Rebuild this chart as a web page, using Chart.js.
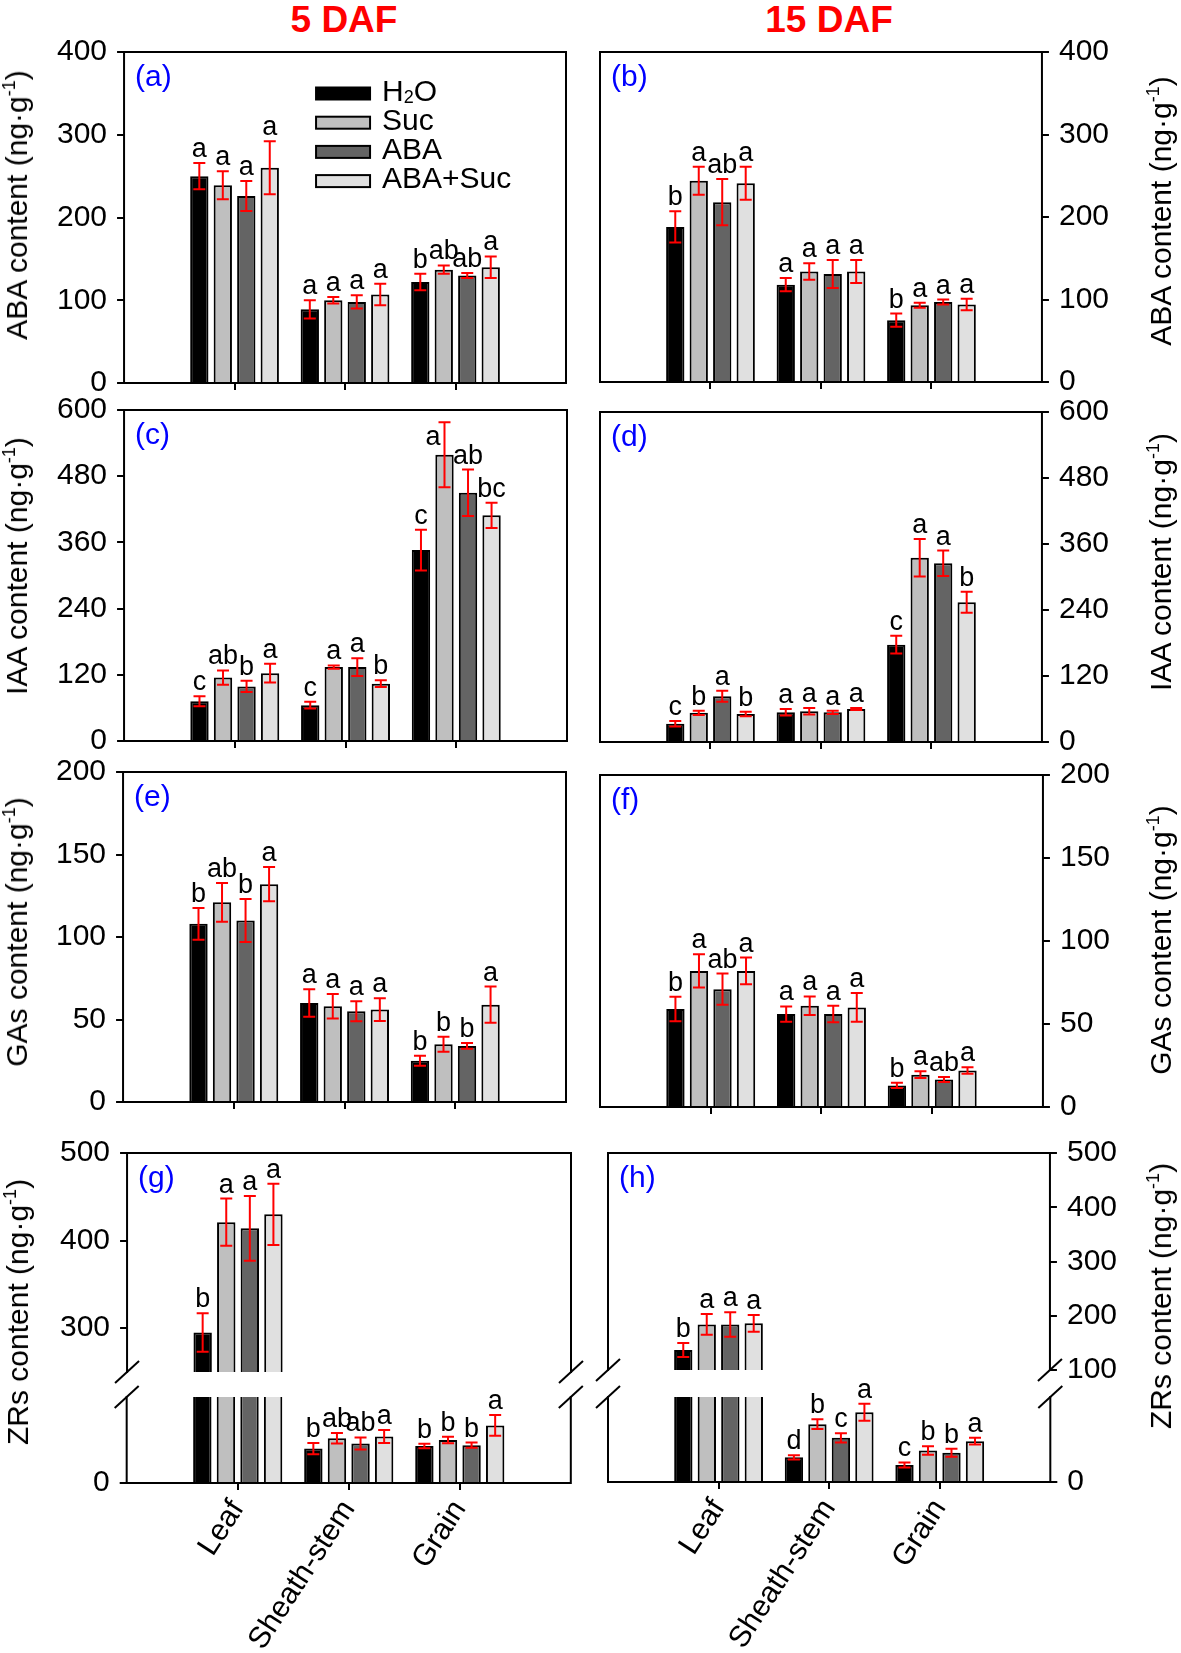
<!DOCTYPE html>
<html>
<head>
<meta charset="utf-8">
<title>ABA, IAA, GAs and ZRs content</title>
<script src="https://cdn.jsdelivr.net/npm/chart.js@4.4.1/dist/chart.umd.min.js"></script>
<style>
  body { margin: 0; background: #fff; }
  #fig { position: relative; width: 1181px; height: 1653px; overflow: hidden; background: #fff; }
  #fig canvas { position: absolute; }
  .txt {
    position: absolute; white-space: nowrap; line-height: 1; color: #000;
    font-family: 'Liberation Sans', Arial, sans-serif;
    transform: translate(-50%, -50%);
  }
  .daf { font-size: 37px; font-weight: bold; color: #ff0000; }
  .ytitle { font-size: 30px; transform: translate(-50%, -50%) rotate(-90deg); }
  .ytitle sup { font-size: 18px; vertical-align: baseline; position: relative; top: -12px; }
</style>
</head>
<body>
<div id="fig">
  <div class="txt daf" style="left:344px;top:19px">5 DAF</div>
  <div class="txt daf" style="left:829px;top:19px">15 DAF</div>
</div>

<script>
const FONT = "'Liberation Sans', Arial, sans-serif";
Chart.defaults.font.family = FONT;
Chart.defaults.color = '#000';

const organs     = ['Leaf', 'Sheath-stem', 'Grain'];
const treatments = ['H₂O', 'Suc', 'ABA', 'ABA+Suc'];
const fills      = ['#000000', '#bfbfbf', '#646464', '#e0e0e0'];

// rows follow treatments, columns follow organs

// (a) ABA, 5 DAF
const abaEarly    = [[250, 89, 122], [239, 100, 137], [226, 98, 130], [260, 107, 140]];
const abaEarlyErr = [[16, 11, 10], [17, 4, 5], [18, 8, 3], [32, 13, 13]];
const abaEarlySig = [['a', 'a', 'b'], ['a', 'a', 'ab'], ['a', 'a', 'ab'], ['a', 'a', 'a']];

// (b) ABA, 15 DAF
const abaLate    = [[188, 118, 75], [244, 134, 93], [218, 131, 97], [241, 134, 94]];
const abaLateErr = [[19, 8, 8], [17, 10, 3], [28, 17, 3], [20, 14, 7]];
const abaLateSig = [['b', 'a', 'b'], ['a', 'a', 'a'], ['ab', 'a', 'a'], ['a', 'a', 'a']];

// (c) IAA, 5 DAF
const iaaEarly    = [[72, 65, 346], [115, 134, 519], [99, 134, 450], [123, 104, 409]];
const iaaEarlyErr = [[9, 6, 37], [13, 3, 59], [10, 16, 42], [17, 6, 23]];
const iaaEarlySig = [['c', 'c', 'c'], ['ab', 'a', 'a'], ['b', 'a', 'ab'], ['a', 'b', 'bc']];

// (d) IAA, 15 DAF
const iaaLate    = [[33, 54, 177], [53, 56, 335], [83, 54, 325], [51, 60, 254]];
const iaaLateErr = [[5, 6, 16], [4, 6, 34], [10, 3, 23], [4, 2, 19]];
const iaaLateSig = [['c', 'a', 'c'], ['b', 'a', 'a'], ['a', 'a', 'a'], ['b', 'a', 'b']];

// (e) GAs, 5 DAF
const gaEarly    = [[108, 60, 25], [121, 58, 35], [110, 55, 34], [132, 56, 59]];
const gaEarlyErr = [[9.6, 8.3, 3], [11.8, 7.4, 4.6], [13, 6, 1.8], [10.4, 6.9, 11]];
const gaEarlySig = [['b', 'a', 'b'], ['ab', 'a', 'b'], ['b', 'a', 'b'], ['a', 'a', 'a']];

// (f) GAs, 15 DAF
const gaLate    = [[59, 56, 13], [82, 61, 19.5], [71, 56, 16.5], [82, 60, 22]];
const gaLateErr = [[7.4, 4.6, 1.6], [10, 5.6, 2], [9.4, 5, 1.5], [8, 8.7, 2]];
const gaLateSig = [['b', 'a', 'b'], ['a', 'a', 'a'], ['ab', 'a', 'ab'], ['a', 'a', 'a']];

// (g) ZRs, 5 DAF
const zrEarly    = [[295, 40, 43], [421, 52, 50], [414, 46, 44], [430, 54, 67]];
const zrEarlyErr = [[22, 6.5, 2.7], [27, 6, 3.8], [37, 7, 3], [35, 7.5, 12]];
const zrEarlySig = [['b', 'b', 'b'], ['a', 'ab', 'b'], ['a', 'ab', 'b'], ['a', 'a', 'a']];

// (h) ZRs, 15 DAF
const zrLate    = [[137, 29, 20], [184, 68, 37], [184, 52, 34.5], [186, 82, 48]];
const zrLateErr = [[13, 2.5, 3], [19, 5.7, 5], [22.5, 5.5, 4.7], [15.5, 10, 4]];
const zrLateSig = [['b', 'd', 'c'], ['a', 'b', 'b'], ['a', 'c', 'b'], ['a', 'a', 'a']];

// tick labels
const abaTicks        = [0, 100, 200, 300, 400];
const iaaTicks        = [0, 120, 240, 360, 480, 600];
const gaTicks         = [0, 50, 100, 150, 200];
const zrEarlyTopTicks = [300, 400, 500];
const zrLateTopTicks  = [100, 200, 300, 400, 500];
const zrLowTicks      = [0];

const panels = [
  { tag: '(a)', name: 'ABA', vals: abaEarly, errs: abaEarlyErr, sig: abaEarlySig, side: 'left', legend: true,
    l: 124, r: 566, titleX: 17, titleY: 205,
    segs: [{ min: 0, max: 400, ticks: abaTicks, t: 52, b: 383 }] },
  { tag: '(b)', name: 'ABA', vals: abaLate, errs: abaLateErr, sig: abaLateSig, side: 'right',
    l: 600, r: 1042, titleX: 1161, titleY: 211,
    segs: [{ min: 0, max: 400, ticks: abaTicks, t: 52, b: 382 }] },
  { tag: '(c)', name: 'IAA', vals: iaaEarly, errs: iaaEarlyErr, sig: iaaEarlySig, side: 'left',
    l: 124, r: 567, titleX: 17, titleY: 566,
    segs: [{ min: 0, max: 600, ticks: iaaTicks, t: 410, b: 741 }] },
  { tag: '(d)', name: 'IAA', vals: iaaLate, errs: iaaLateErr, sig: iaaLateSig, side: 'right',
    l: 600, r: 1042, titleX: 1161, titleY: 562,
    segs: [{ min: 0, max: 600, ticks: iaaTicks, t: 412, b: 742 }] },
  { tag: '(e)', name: 'GAs', vals: gaEarly, errs: gaEarlyErr, sig: gaEarlySig, side: 'left',
    l: 123, r: 566, titleX: 17, titleY: 932,
    segs: [{ min: 0, max: 200, ticks: gaTicks, t: 772, b: 1102 }] },
  { tag: '(f)', name: 'GAs', vals: gaLate, errs: gaLateErr, sig: gaLateSig, side: 'right',
    l: 600, r: 1043, titleX: 1161, titleY: 940,
    segs: [{ min: 0, max: 200, ticks: gaTicks, t: 775, b: 1107 }] },
  { tag: '(g)', name: 'ZRs', vals: zrEarly, errs: zrEarlyErr, sig: zrEarlySig, side: 'left',
    l: 127, r: 571, titleX: 18, titleY: 1312,
    segs: [{ min: 250, max: 500, ticks: zrEarlyTopTicks, t: 1153, b: 1372 },
           { min: 0, max: 100, ticks: zrLowTicks, t: 1397, b: 1483 }] },
  { tag: '(h)', name: 'ZRs', vals: zrLate, errs: zrLateErr, sig: zrLateSig, side: 'right',
    l: 608, r: 1050, titleX: 1161, titleY: 1296,
    segs: [{ min: 100, max: 500, ticks: zrLateTopTicks, t: 1153, b: 1370 },
           { min: 0, max: 100, ticks: zrLowTicks, t: 1397, b: 1482 }] }
];

const fig = document.getElementById('fig');

// text with unicode subscript digits drawn small and lowered
function richText(ctx, text, x, y, size) {
  let cx = x;
  for (const ch of text) {
    const sub = '₀₁₂₃₄₅₆₇₈₉'.indexOf(ch);
    const s = sub >= 0 ? String(sub) : ch;
    ctx.font = (sub >= 0 ? Math.round(size * 0.6) : size) + 'px ' + FONT;
    ctx.fillText(s, cx, sub >= 0 ? y + size * 0.18 : y);
    cx += ctx.measureText(s).width;
  }
}

function inRange(scale, v) {
  return v != null && v >= scale.min && v <= scale.max;
}

const errorBars = {
  id: 'errorBars',
  afterDatasetsDraw(chart) {
    const { ctx, chartArea: a } = chart;
    const y = chart.scales.y;
    ctx.save();
    ctx.beginPath();
    ctx.rect(a.left, a.top - 2, a.right - a.left, a.bottom - a.top + 4);
    ctx.clip();
    ctx.strokeStyle = '#ff0000';
    ctx.lineWidth = 2;
    chart.data.datasets.forEach((ds, i) => {
      chart.getDatasetMeta(i).data.forEach((bar, j) => {
        const v = ds.data[j];
        if (!inRange(y, v)) return;
        const top = y.getPixelForValue(v + ds.errors[j]);
        const bot = y.getPixelForValue(v - ds.errors[j]);
        ctx.beginPath();
        ctx.moveTo(bar.x, top);     ctx.lineTo(bar.x, bot);
        ctx.moveTo(bar.x - 6, top); ctx.lineTo(bar.x + 6, top);
        ctx.moveTo(bar.x - 6, bot); ctx.lineTo(bar.x + 6, bot);
        ctx.stroke();
      });
    });
    ctx.restore();
  }
};

// significance letters over each error bar
function lettersPlugin(mayMoveAside) {
  return {
    id: 'letters',
    afterDraw(chart) {
      const { ctx, chartArea: a } = chart;
      const y = chart.scales.y;
      ctx.save();
      ctx.fillStyle = '#000';
      ctx.font = '27px ' + FONT;
      ctx.textBaseline = 'alphabetic';
      chart.data.datasets.forEach((ds, i) => {
        chart.getDatasetMeta(i).data.forEach((bar, j) => {
          const v = ds.data[j];
          if (!inRange(y, v) || !ds.letters[j]) return;
          const cap = y.getPixelForValue(v + ds.errors[j]);
          if (mayMoveAside && cap - 27 < a.top) {
            // no room above: put it beside the bar
            ctx.textAlign = 'right';
            ctx.fillText(ds.letters[j], bar.x - 4, cap + 23);
          } else {
            ctx.textAlign = 'center';
            ctx.fillText(ds.letters[j], bar.x, cap - 6);
          }
        });
      });
      ctx.restore();
    }
  };
}

function framePlugin(sides, cut) {
  return {
    id: 'frame',
    afterDraw(chart) {
      const { ctx, chartArea: a } = chart;
      ctx.save();
      ctx.strokeStyle = '#000';
      ctx.lineWidth = 2;
      ctx.lineCap = 'square';
      ctx.beginPath();
      if (sides.includes('t')) { ctx.moveTo(a.left, a.top);    ctx.lineTo(a.right, a.top); }
      if (sides.includes('b')) { ctx.moveTo(a.left, a.bottom); ctx.lineTo(a.right, a.bottom); }
      ctx.moveTo(a.left, a.top);  ctx.lineTo(a.left, a.bottom);
      ctx.moveTo(a.right, a.top); ctx.lineTo(a.right, a.bottom);
      ctx.stroke();
      if (cut) {
        const yc = cut === 'bottom' ? a.bottom : a.top;
        ctx.lineCap = 'butt';
        [a.left, a.right].forEach(xc => {
          ctx.beginPath();
          ctx.moveTo(xc - 12, yc + 11);
          ctx.lineTo(xc + 12, yc - 11);
          ctx.stroke();
        });
      }
      ctx.restore();
    }
  };
}

function tagPlugin(tag) {
  return {
    id: 'tag',
    afterDraw(chart) {
      const { ctx, chartArea: a } = chart;
      ctx.save();
      ctx.fillStyle = '#0000ff';
      ctx.font = '30px ' + FONT;
      ctx.textAlign = 'left';
      ctx.textBaseline = 'middle';
      ctx.fillText(tag, a.left + 11, a.top + 26);
      ctx.restore();
    }
  };
}

const legendBox = {
  id: 'legendBox',
  afterDraw(chart) {
    const { ctx, chartArea: a } = chart;
    ctx.save();
    ctx.textAlign = 'left';
    ctx.textBaseline = 'middle';
    chart.data.datasets.forEach((ds, i) => {
      const cy = a.top + 41.5 + i * 29.2;
      ctx.fillStyle = ds.backgroundColor;
      ctx.fillRect(a.left + 192, cy - 6, 54, 12);
      ctx.strokeStyle = '#000';
      ctx.lineWidth = 2;
      ctx.strokeRect(a.left + 192, cy - 6, 54, 12);
      ctx.fillStyle = '#000';
      richText(ctx, ds.label, a.left + 258, cy - 1, 30);
    });
    ctx.restore();
  }
};

// build the chart, then size and move its canvas so the plot area lands on the box
function placeChart(config, box) {
  const canvas = document.createElement('canvas');
  canvas.width = box.r - box.l + 260;
  canvas.height = box.b - box.t + 260;
  fig.appendChild(canvas);
  const chart = new Chart(canvas, config);
  let a;
  for (let n = 0; n < 3; n++) {
    a = chart.chartArea;
    const w = chart.width + (box.r - box.l) - (a.right - a.left);
    const h = chart.height + (box.b - box.t) - (a.bottom - a.top);
    chart.resize(Math.round(w), Math.round(h));
    chart.update('none');
  }
  a = chart.chartArea;
  canvas.style.left = (box.l - a.left) + 'px';
  canvas.style.top = (box.t - a.top) + 'px';
  return chart;
}

function buildSegment(p, s, k) {
  const broken = p.segs.length > 1;
  const upper = broken && k === 0;
  const lower = broken && k === 1;

  const datasets = treatments.map((t, i) => ({
    label: t,
    data: [null, ...p.vals[i], null],
    errors: [null, ...p.errs[i], null],
    letters: ['', ...p.sig[i], ''],
    backgroundColor: fills[i],
    borderColor: '#000',
    borderWidth: 2,
    barPercentage: 0.78,
    categoryPercentage: 0.85,
    clip: { left: 0, top: 0, right: 0, bottom: 0 }
  }));

  const plugins = [
    errorBars,
    lettersPlugin(!lower),
    framePlugin(upper ? 'tlr' : lower ? 'blr' : 'tblr', upper ? 'bottom' : lower ? 'top' : null)
  ];
  if (k === 0) plugins.push(tagPlugin(p.tag));
  if (p.legend) plugins.push(legendBox);

  const config = {
    type: 'bar',
    data: { labels: ['', ...organs, ''], datasets },
    options: {
      responsive: false,
      maintainAspectRatio: false,
      animation: false,
      events: [],
      layout: { padding: { left: 20, right: 20, top: 30, bottom: 10 } },
      plugins: { legend: { display: false }, tooltip: { enabled: false } },
      scales: {
        x: {
          type: 'category',
          offset: false,
          display: !upper,
          border: { display: false },
          // room for the rotated organ names (the default fit caps it at half the canvas)
          afterFit: scale => { if (lower) scale.height = 178; },
          grid: {
            offset: false,
            drawOnChartArea: false,
            drawTicks: true,
            tickLength: 7,
            lineWidth: 2,
            color: ctx => (ctx.index > 0 && ctx.index < 4) ? '#000' : 'rgba(0,0,0,0)'
          },
          ticks: {
            display: lower,
            autoSkip: false,
            minRotation: 57,
            maxRotation: 57,
            padding: 4,
            color: '#000',
            font: { size: 30 }
          }
        },
        y: {
          position: p.side,
          min: s.min,
          max: s.max,
          afterBuildTicks: scale => { scale.ticks = s.ticks.map(v => ({ value: v })); },
          border: { display: false },
          grid: { drawOnChartArea: false, drawTicks: true, tickLength: 7, lineWidth: 2, color: '#000' },
          ticks: { padding: 10, color: '#000', font: { size: 30 } }
        }
      }
    },
    plugins
  };

  return placeChart(config, { l: p.l, r: p.r, t: s.t, b: s.b });
}

panels.forEach(p => {
  p.segs.forEach((s, k) => buildSegment(p, s, k));

  const title = document.createElement('div');
  title.className = 'txt ytitle';
  title.style.left = p.titleX + 'px';
  title.style.top = p.titleY + 'px';
  title.innerHTML = p.name + ' content (ng·g<sup>-1</sup>)';
  fig.appendChild(title);
});
</script>
</body>
</html>
